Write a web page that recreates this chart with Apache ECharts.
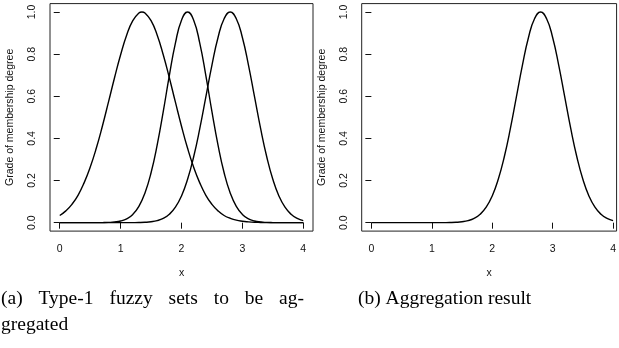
<!DOCTYPE html>
<html>
<head>
<meta charset="utf-8">
<script src="https://cdn.jsdelivr.net/npm/echarts@6/dist/echarts.min.js"></script>
<style>
  html, body { margin: 0; padding: 0; background: #fff; }
  #chart { width: 619px; height: 348px; }
</style>
</head>
<body>
<div id="chart"></div>
<script>
// Tick positions shown on both panels
const xTicks = [0, 1, 2, 3, 4];
const yTicks = [0, 0.2, 0.4, 0.6, 0.8, 1.0];

// Sample positions along x
const xGrid = [0, 0.1, 0.2, 0.3, 0.4, 0.5, 0.6, 0.7, 0.8, 0.9,
               1.0, 1.1, 1.2, 1.3, 1.4, 1.5, 1.6, 1.7, 1.8, 1.9,
               2.0, 2.1, 2.2, 2.3, 2.4, 2.5, 2.6, 2.7, 2.8, 2.9,
               3.0, 3.1, 3.2, 3.3, 3.4, 3.5, 3.6, 3.7, 3.8, 3.9, 4.0];
// Set A is also sampled at its peak (1.35)
const xSetA = [0, 0.1, 0.2, 0.3, 0.4, 0.5, 0.6, 0.7, 0.8, 0.9,
               1.0, 1.1, 1.2, 1.3, 1.35, 1.4, 1.5, 1.6, 1.7, 1.8, 1.9,
               2.0, 2.1, 2.2, 2.3, 2.4, 2.5, 2.6, 2.7, 2.8, 2.9,
               3.0, 3.1, 3.2, 3.3, 3.4, 3.5, 3.6, 3.7, 3.8, 3.9, 4.0];

// Membership degrees of the three type-1 fuzzy sets
const setA = [0.034, 0.056, 0.087, 0.130, 0.189, 0.263, 0.353, 0.458, 0.572, 0.688,
              0.797, 0.891, 0.959, 0.995, 1.000, 0.995, 0.959, 0.891, 0.797, 0.688, 0.572,
              0.458, 0.353, 0.263, 0.189, 0.130, 0.087, 0.056, 0.034, 0.021, 0.012,
              0.007, 0.004, 0.002, 0.001, 0.000, 0, 0, 0, 0, 0, 0];
const setB = [0, 0, 0, 0, 0, 0, 0.0001, 0.0004, 0.0012, 0.0032,
              0.0079, 0.0183, 0.0392, 0.0773, 0.141, 0.237, 0.368, 0.527, 0.698, 0.852,
              0.961, 1.000, 0.961, 0.852, 0.698, 0.527, 0.368, 0.237, 0.141, 0.0773,
              0.0392, 0.0183, 0.0079, 0.0032, 0.0012, 0.0004, 0.0001, 0, 0, 0, 0];
const setC = [0, 0, 0, 0, 0, 0, 0, 0, 0, 0,
              0, 0.0001, 0.0003, 0.0007, 0.0018, 0.0043, 0.0096, 0.0202, 0.0397, 0.0733,
              0.127, 0.206, 0.313, 0.446, 0.597, 0.748, 0.879, 0.968, 1.000, 0.968,
              0.879, 0.748, 0.597, 0.446, 0.313, 0.206, 0.127, 0.0733, 0.0397, 0.0202, 0.0096];
// Aggregated fuzzy set
const aggResult = [0, 0, 0, 0, 0, 0, 0, 0, 0, 0,
                   0, 0.0001, 0.0003, 0.0007, 0.0018, 0.0043, 0.0096, 0.0202, 0.0397, 0.0733,
                   0.127, 0.206, 0.313, 0.446, 0.597, 0.748, 0.879, 0.968, 1.000, 0.968,
                   0.879, 0.748, 0.597, 0.446, 0.313, 0.206, 0.127, 0.0733, 0.0397, 0.0202, 0.0096];

const yTitle = 'Grade of membership degree';
const xTitle = 'x';
const captionA = ['(a) Type-1 fuzzy sets to be ag-', 'gregated'];
const captionB = '(b) Aggregation result';

const pairs = (xs, ys) => xs.map((x, i) => [x, ys[i]]);

const sansFont = '"Liberation Sans", Arial, Helvetica, sans-serif';
const serifFont = '"Liberation Serif", "Times New Roman", serif';
const ink = '#111';
const axisFontSize = 10.5;
const captionSize = 19.5;

function xAxisFor(gi, max) {
  return {
    type: 'value', gridIndex: gi, min: -0.16, max: max,
    name: xTitle, nameLocation: 'middle', nameGap: 37,
    nameTextStyle: { fontFamily: sansFont, fontSize: axisFontSize, color: ink },
    axisLine: { show: false },
    axisTick: { show: true, inside: false, length: 6, customValues: xTicks,
                lineStyle: { color: ink, width: 1 } },
    axisLabel: { customValues: xTicks, margin: 13, fontFamily: sansFont, fontSize: axisFontSize,
                 color: ink, formatter: v => String(v) },
    splitLine: { show: false }
  };
}
function yAxisFor(gi) {
  return {
    type: 'value', gridIndex: gi, min: -0.04, max: 1.04,
    name: yTitle, nameLocation: 'middle', nameGap: 34, nameRotate: 90,
    nameTextStyle: { fontFamily: sansFont, fontSize: axisFontSize, color: ink },
    axisLine: { show: false },
    axisTick: { show: true, inside: false, length: 6, customValues: yTicks,
                lineStyle: { color: ink, width: 1 } },
    axisLabel: { customValues: yTicks, rotate: 90, margin: 12, fontFamily: sansFont,
                 fontSize: axisFontSize, color: ink, formatter: v => v.toFixed(1) },
    splitLine: { show: false }
  };
}
function curve(gi, xs, ys) {
  return {
    type: 'line', xAxisIndex: gi, yAxisIndex: gi, data: pairs(xs, ys),
    showSymbol: false, smooth: true, silent: true,
    lineStyle: { color: '#000', width: 1.4 }
  };
}

// Lay out a justified caption line as separate words
const measure = document.createElement('canvas').getContext('2d');
function justified(text, left, right, top, size) {
  measure.font = size + 'px ' + serifFont;
  const words = text.split(' ');
  const widths = words.map(w => measure.measureText(w).width);
  const gap = (right - left - widths.reduce((a, b) => a + b, 0)) / (words.length - 1);
  let x = left;
  return words.map((w, i) => {
    const el = { type: 'text', x: x, y: top,
                 style: { text: w, font: size + 'px ' + serifFont, fill: '#000',
                          verticalAlign: 'top' } };
    x += widths[i] + gap;
    return el;
  });
}
function plain(text, left, top, size) {
  return { type: 'text', x: left, y: top,
           style: { text: text, font: size + 'px ' + serifFont, fill: '#000',
                    verticalAlign: 'top' } };
}

const chart = echarts.init(document.getElementById('chart'), null, { renderer: 'canvas' });
chart.setOption({
  animation: false,
  backgroundColor: '#fff',
  grid: [
    { left: 50, top: 3.6, width: 263, height: 227.5, show: true,
      borderColor: '#222', borderWidth: 1, backgroundColor: 'transparent' },
    { left: 361.7, top: 3.6, width: 256.8, height: 227.5, show: true,
      borderColor: '#222', borderWidth: 1, backgroundColor: 'transparent' }
  ],
  xAxis: [xAxisFor(0, 4.16), xAxisFor(1, 4.058)],
  yAxis: [yAxisFor(0), yAxisFor(1)],
  series: [
    curve(0, xSetA, setA),
    curve(0, xGrid, setB),
    curve(0, xGrid, setC),
    curve(1, xGrid, aggResult)
  ],
  graphic: [
    ...justified(captionA[0], 1, 304, 289, captionSize),
    plain(captionA[1], 1, 315, captionSize),
    plain(captionB, 358, 289, captionSize)
  ]
});
</script>
</body>
</html>
